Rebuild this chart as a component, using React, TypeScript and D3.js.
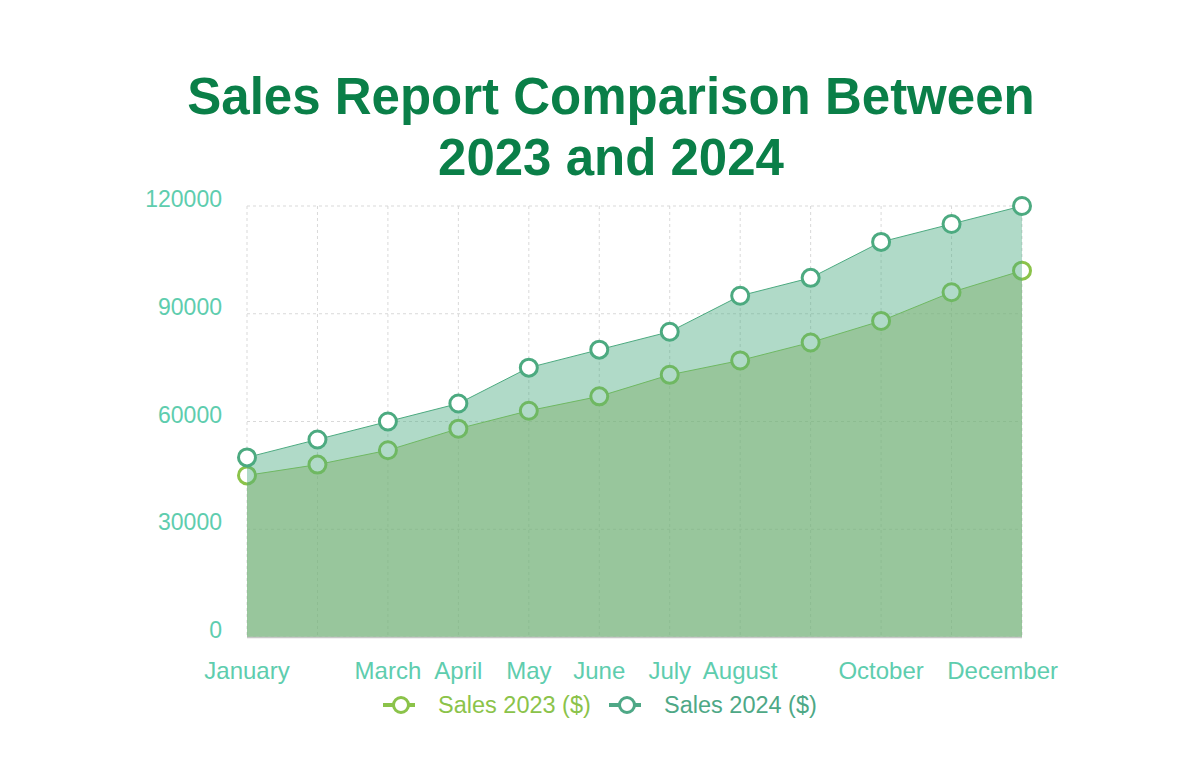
import React, { useEffect, useRef } from "react";
import * as d3 from "d3";

const months = ["January","February","March","April","May","June","July","August","September","October","November","December"];
const sales2023 = [45000,48000,52000,58000,63000,67000,73000,77000,82000,88000,96000,102000];
const sales2024 = [50000,55000,60000,65000,75000,80000,85000,95000,100000,110000,115000,120000];
const yTicks = [0,30000,60000,90000,120000];
const titleLines = ["Sales Report Comparison Between","2023 and 2024"];
const seriesNames = ["Sales 2023 ($)","Sales 2024 ($)"];

const W = 1200, H = 771;
const M = { left: 247, right: 1022, top: 206, bottom: 637 };
const C2023 = "#8bc34a";
const C2024 = "#4caa80";
const AXIS = "#5ecdae";

export default function App() {
  const ref = useRef<SVGSVGElement>(null);
  useEffect(() => {
    const svg = d3.select(ref.current);
    svg.selectAll("*").remove();
    const font = "'Liberation Sans', Arial, sans-serif";
    const x = d3.scalePoint<string>().domain(months).range([M.left, M.right]);
    const y = d3.scaleLinear().domain([0, 120000]).range([M.bottom, M.top]);

    // title
    svg.append("g").selectAll("text").data(titleLines).join("text")
      .attr("x", 611).attr("y", (_, i) => 114 + i * 61)
      .attr("text-anchor", "middle").attr("font-family", font)
      .attr("font-weight", "bold").attr("font-size", 51).attr("fill", "#0a7f48")
      .text(d => d);

    // grid
    const g = svg.append("g");
    g.selectAll("line.h").data(yTicks).join("line").attr("class", "h")
      .attr("x1", M.left).attr("x2", M.right).attr("y1", d => y(d)).attr("y2", d => y(d))
      .attr("stroke", "#d9d9d9").attr("stroke-dasharray", "3,3");
    g.selectAll("line.v").data(months).join("line").attr("class", "v")
      .attr("x1", d => x(d)!).attr("x2", d => x(d)!).attr("y1", M.top).attr("y2", M.bottom)
      .attr("stroke", "#d9d9d9").attr("stroke-dasharray", "3,3");

    const idx = months.map((_, i) => i);
    const area = (vals: number[]) => d3.area<number>().x(i => x(months[i])!).y0(y(0)).y1(i => y(vals[i]))(idx)!;
    const line = (vals: number[]) => d3.line<number>().x(i => x(months[i])!).y(i => y(vals[i]))(idx)!;

    // 2023 area & line
    svg.append("path").attr("d", area(sales2023)).attr("fill", "rgb(170,186,100)").attr("fill-opacity", 0.5);
    svg.append("path").attr("d", line(sales2023)).attr("fill", "none").attr("stroke", C2023).attr("stroke-width", 1);
    svg.append("g").selectAll("circle").data(idx).join("circle")
      .attr("cx", i => x(months[i])!).attr("cy", i => y(sales2023[i])).attr("r", 8.5)
      .attr("fill", "#fff").attr("stroke", C2023).attr("stroke-width", 3);

    // 2024 area & line
    svg.append("path").attr("d", area(sales2024)).attr("fill", "rgb(76,170,130)").attr("fill-opacity", 0.44);
    svg.append("path").attr("d", line(sales2024)).attr("fill", "none").attr("stroke", C2024).attr("stroke-width", 1);

    // x axis line
    svg.append("line").attr("x1", M.left).attr("x2", M.right).attr("y1", M.bottom + 0.5).attr("y2", M.bottom + 0.5)
      .attr("stroke", "#c8c8c8").attr("stroke-width", 1.5);

    svg.append("g").selectAll("circle").data(idx).join("circle")
      .attr("cx", i => x(months[i])!).attr("cy", i => y(sales2024[i])).attr("r", 8.5)
      .attr("fill", "#fff").attr("stroke", C2024).attr("stroke-width", 3);

    // y labels
    svg.append("g").selectAll("text").data(yTicks).join("text")
      .attr("x", 222).attr("y", d => y(d) + 1).attr("text-anchor", "end")
      .attr("font-family", font).attr("font-size", 23).attr("fill", AXIS)
      .text(d => String(d));

    // x labels with overlap hiding
    const xl = svg.append("g").selectAll("text").data(months).join("text")
      .attr("x", d => x(d)!).attr("y", 679).attr("text-anchor", "middle")
      .attr("font-family", font).attr("font-size", 24).attr("fill", AXIS)
      .text(d => d);
    let lastRight = -Infinity;
    const n = months.length;
    xl.each(function (d, i) {
      const el = this as SVGTextElement;
      const w = el.getComputedTextLength();
      let cx = x(d)!;
      if (i === n - 1) {
        const maxRight = M.right + 36;
        if (cx + w / 2 > maxRight) {
          cx = maxRight - w / 2;
          d3.select(el).attr("x", cx);
        }
      }
      if (cx - w / 2 < lastRight + 4) {
        d3.select(el).remove();
      } else {
        lastRight = cx + w / 2;
      }
    });

    // legend
    const leg = svg.append("g");
    const items = [
      { name: seriesNames[0], color: C2023, x0: 383 },
      { name: seriesNames[1], color: "#4ea886", x0: 609 },
    ];
    items.forEach(it => {
      leg.append("line").attr("x1", it.x0).attr("x2", it.x0 + 32).attr("y1", 705).attr("y2", 705)
        .attr("stroke", it.color).attr("stroke-width", 4);
      leg.append("circle").attr("cx", it.x0 + 18).attr("cy", 705).attr("r", 7.5)
        .attr("fill", "#fff").attr("stroke", it.color).attr("stroke-width", 3);
      leg.append("text").attr("x", it.x0 + 55).attr("y", 713)
        .attr("font-family", font).attr("font-size", 23.5).attr("fill", it.color).text(it.name);
    });
  }, []);
  return (
    <svg ref={ref} width={W} height={H} style={{ display: "block", position: "absolute", left: 0, top: 0, background: "#fff" }} />
  );
}
